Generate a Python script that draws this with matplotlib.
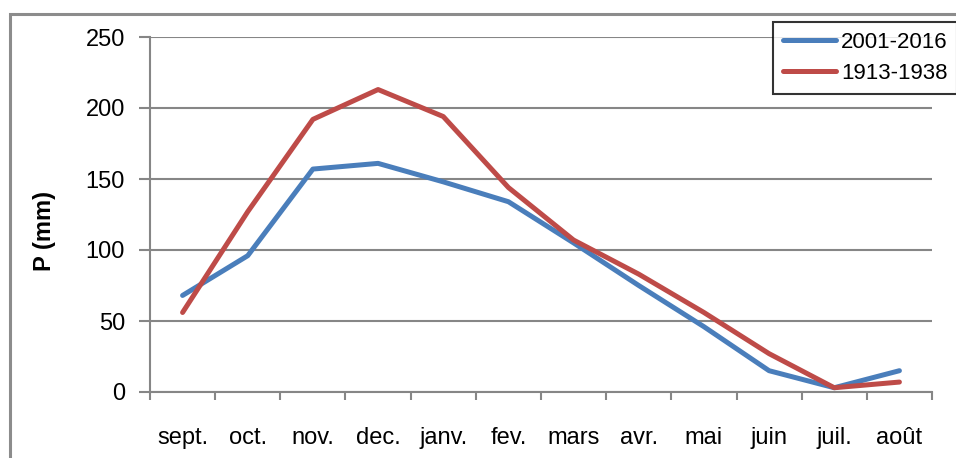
import matplotlib
matplotlib.use("Agg")
import matplotlib.pyplot as plt
from matplotlib.patches import Rectangle

months = ["sept.", "oct.", "nov.", "dec.", "janv.", "fev.", "mars", "avr.", "mai", "juin", "juil.", "août"]
p_2001_2016 = [68, 96, 157, 161, 148, 134, 105, 75, 46, 15, 3, 15]
p_1913_1938 = [56, 127, 192, 213, 194, 144, 107, 83, 56, 27, 3, 7]
y_ticks = [0, 50, 100, 150, 200, 250]

plt.rcParams["font.family"] = ["Liberation Sans", "DejaVu Sans"]

W, H = 956, 458
fig = plt.figure(figsize=(W / 100, H / 100), dpi=100)
# outer chart frame
fig.patches.append(Rectangle((10 / W, -0.2), 1.2, 1 - 14 / H + 0.2, transform=fig.transFigure,
                             fill=False, edgecolor="#8c8c8c", linewidth=2.2))
ax = fig.add_axes([150 / W, 1 - 392 / H, (932 - 150) / W, (392 - 37) / H])

x = list(range(len(months)))
ax.plot(x, p_2001_2016, color="#4a7ebb", linewidth=3.6, label="2001-2016", solid_capstyle="round")
ax.plot(x, p_1913_1938, color="#be4b48", linewidth=3.6, label="1913-1938", solid_capstyle="round")

ax.set_xlim(-0.5, len(months) - 0.5)
ax.set_ylim(0, 250)
ax.set_yticks(y_ticks)
ax.set_yticklabels([str(v) for v in y_ticks])
ax.yaxis.grid(True, color="#868686", linewidth=1.5)
ax.set_axisbelow(True)

ax.set_xticks(x)
ax.set_xticklabels(months)
ax.set_xticks([i - 0.5 for i in range(len(months) + 1)], minor=True)
ax.tick_params(axis="x", which="major", length=0, pad=25, labelsize=17)
ax.tick_params(axis="x", which="minor", length=6, width=1.5, color="#868686", direction="out")
ax.tick_params(axis="y", length=8, width=1.5, color="#868686", labelsize=17, pad=10)

for s in ["top", "right"]:
    ax.spines[s].set_visible(False)
for s in ["left", "bottom"]:
    ax.spines[s].set_color("#868686")
    ax.spines[s].set_linewidth(1.5)

fig.text(45 / W, 1 - 231 / H, "P (mm)", rotation=90, ha="center", va="center",
         fontsize=17, fontweight="bold")

leg = ax.legend(loc="upper left", bbox_to_anchor=(773 / W, 1 - 22 / H), bbox_transform=fig.transFigure,
                frameon=True, fancybox=False, fontsize=16, handlelength=2.4, handletextpad=0.2,
                borderpad=0.45, labelspacing=0.45, borderaxespad=0)
leg.get_frame().set_edgecolor("black")
leg.get_frame().set_linewidth(1.5)

fig.savefig("out.png", dpi=100)
